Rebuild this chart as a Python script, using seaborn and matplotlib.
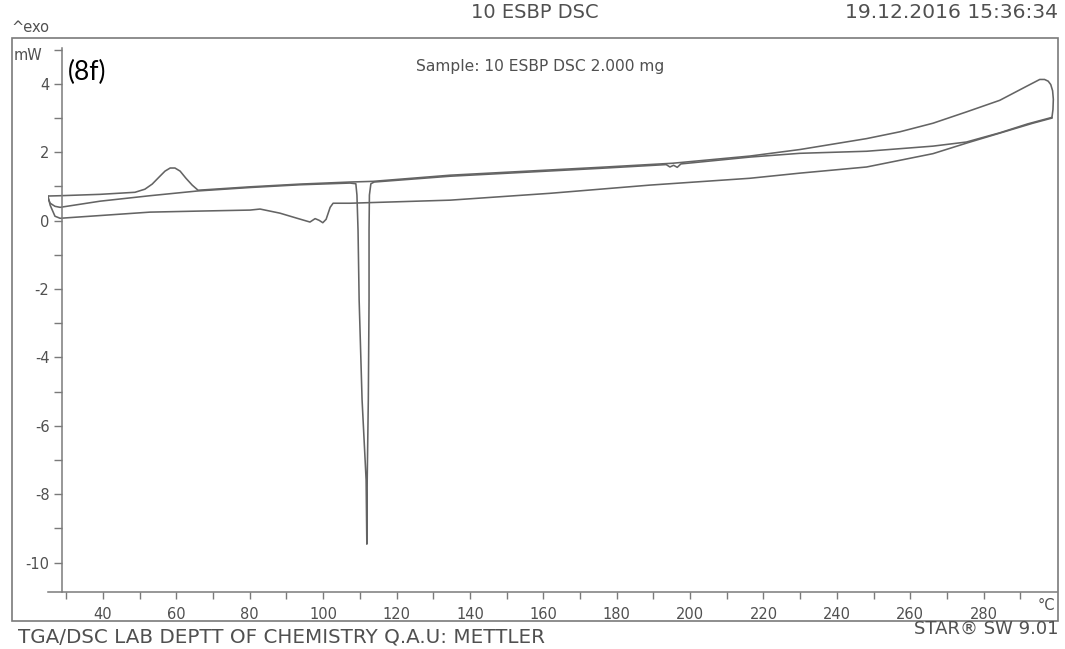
import numpy as np
import pandas as pd
import matplotlib
matplotlib.use("Agg")
import matplotlib.pyplot as plt
from matplotlib.patches import Rectangle
from matplotlib.ticker import FixedLocator
import seaborn as sns

# ---- DSC traces (temperature in degC, heat flow in mW) ----
# first heating 25 -> 300 degC
heat1_T = [25.0, 25.6, 26.9, 28.3, 39.2, 52.8, 66.0, 80.1, 82.8, 88.2, 92.9, 96.4,
           97.8, 98.9, 99.9, 100.8, 101.9, 102.7, 107.3, 134.6, 161.8, 189.0,
           216.3, 229.9, 248.1, 266.2, 275.4, 284.4, 293.4, 298.6]
heat1_mW = [0.72, 0.45, 0.13, 0.07, 0.15, 0.25, 0.28, 0.31, 0.34, 0.22, 0.07, -0.04,
            0.06, 0.01, -0.06, 0.04, 0.39, 0.51, 0.51, 0.60, 0.80, 1.04,
            1.24, 1.39, 1.57, 1.96, 2.27, 2.56, 2.85, 3.00]

# cooling 300 -> 25 degC
cool_T = [298.6, 298.9, 299.0, 298.8, 298.3, 297.6, 296.6, 295.3, 291.7, 284.4,
          275.3, 266.2, 257.2, 248.1, 239.0, 229.9, 216.3, 195.3, 175.4, 134.6,
          113.6, 107.3, 93.7, 80.1, 65.9, 64.3, 62.6, 61.0, 59.6, 58.3, 56.9,
          55.5, 53.4, 51.4, 48.7, 39.2, 28.3, 24.7]
cool_mW = [3.00, 3.25, 3.55, 3.80, 3.98, 4.08, 4.13, 4.13, 3.93, 3.52,
           3.18, 2.85, 2.60, 2.40, 2.24, 2.08, 1.89, 1.68, 1.56, 1.33,
           1.15, 1.13, 1.07, 0.99, 0.89, 1.04, 1.24, 1.45, 1.54, 1.54, 1.45,
           1.30, 1.07, 0.92, 0.83, 0.77, 0.73, 0.72]

# second heating 25 -> 300 degC
heat2_T = [24.7, 25.6, 26.9, 28.3, 39.2, 52.8, 65.9, 80.1, 93.7, 107.3,
           108.9, 109.2, 109.5, 109.8, 110.6, 111.7, 111.9, 112.0, 112.3, 112.5,
           112.5, 112.6, 113.0, 113.9, 134.6, 175.4, 193.5, 194.5, 195.5, 196.5,
           197.5, 216.3, 229.9, 248.1, 266.2, 275.3, 284.4, 292.0, 298.6]
heat2_mW = [0.72, 0.51, 0.42, 0.39, 0.57, 0.73, 0.87, 0.97, 1.05, 1.10,
            1.08, 0.75, -0.28, -2.32, -5.24, -7.58, -9.46, -7.58, -5.24, -2.32,
            -0.28, 0.75, 1.08, 1.13, 1.30, 1.53, 1.64, 1.57, 1.62, 1.56,
            1.66, 1.86, 1.97, 2.03, 2.18, 2.30, 2.57, 2.83, 3.02]

x_major = [40, 60, 80, 100, 120, 140, 160, 180, 200, 220, 240, 260, 280]
y_major = [-10, -8, -6, -4, -2, 0, 2, 4]

df = pd.concat([
    pd.DataFrame({"seg": "heat1", "T": heat1_T, "mW": heat1_mW}),
    pd.DataFrame({"seg": "cool", "T": cool_T, "mW": cool_mW}),
    pd.DataFrame({"seg": "heat2", "T": heat2_T, "mW": heat2_mW}),
], ignore_index=True)

sns.set_theme(style="ticks")
plt.rcParams["font.family"] = ["DejaVu Sans"]
plt.rcParams["axes.unicode_minus"] = False

W, H = 1065, 649
fig = plt.figure(figsize=(W / 100, H / 100), dpi=100)
fig.patch.set_facecolor("white")

def fx(px):
    return px / W

def fy(py):
    return 1 - py / H

ax = fig.add_axes([fx(48), fy(592), fx(1057) - fx(48), fy(48) - fy(592)])
ax.set_facecolor("none")

line_col = "#646464"
axis_col = "#7a7a7a"
text_col = "#505050"

sns.lineplot(data=df, x="T", y="mW", units="seg", estimator=None, sort=False,
             color=line_col, linewidth=1.15, ax=ax, legend=False)

ax.set_xlim(25, 300)
ax.set_ylim(-10.86, 5.05)
ax.set_xlabel("")
ax.set_ylabel("")

for s in ("top", "right"):
    ax.spines[s].set_visible(False)
ax.spines["left"].set_position(("data", 28.8))
for s in ("left", "bottom"):
    ax.spines[s].set_color(axis_col)
    ax.spines[s].set_linewidth(1.1)

ax.xaxis.set_major_locator(FixedLocator(x_major))
ax.xaxis.set_minor_locator(FixedLocator(list(range(30, 300, 20))))
ax.yaxis.set_major_locator(FixedLocator(y_major))
ax.yaxis.set_minor_locator(FixedLocator(list(range(-9, 6, 2))))

ax.tick_params(axis="x", which="both", direction="out", length=5, width=1.0,
               color=axis_col, labelcolor=text_col, labelsize=10.5, pad=5.5)
ax.tick_params(axis="y", which="both", direction="out", length=5.5, width=1.0,
               color=axis_col, labelcolor=text_col, labelsize=10.5, pad=3.5)

# outer frame of the printout
fig.add_artist(Rectangle((fx(12), fy(621)), fx(1058) - fx(12), fy(38) - fy(621),
                         transform=fig.transFigure, fill=False,
                         edgecolor=axis_col, linewidth=1.2))

fig.text(fx(11), fy(27), "^exo", ha="left", va="center", fontsize=10.5, color=text_col)
fig.text(fx(535), fy(13), "10 ESBP DSC", ha="center", va="center", fontsize=14, color=text_col)
fig.text(fx(1058), fy(13), "19.12.2016 15:36:34", ha="right", va="center", fontsize=14.6,
         color=text_col)
fig.text(fx(14), fy(55), "mW", ha="left", va="center", fontsize=10.5, color=text_col)
fig.text(fx(540), fy(67), "Sample: 10 ESBP DSC 2.000 mg", ha="center", va="center",
         fontsize=11.2, color=text_col)
fig.text(fx(68), fy(72), "(8f)", ha="left", va="center", fontsize=19, color="black",
         family=["Lato", "DejaVu Sans"])
fig.text(fx(1055), fy(606), "\u00b0C", ha="right", va="center", fontsize=10.5, color=text_col)
fig.text(fx(18), fy(637), "TGA/DSC LAB DEPTT OF CHEMISTRY Q.A.U: METTLER", ha="left",
         va="center", fontsize=14.3, color=text_col)
fig.text(fx(1058), fy(629), "STAR\u00ae SW 9.01", ha="right", va="center",
         fontsize=13, color=text_col)

fig.savefig("out.png", dpi=100, facecolor="white")
